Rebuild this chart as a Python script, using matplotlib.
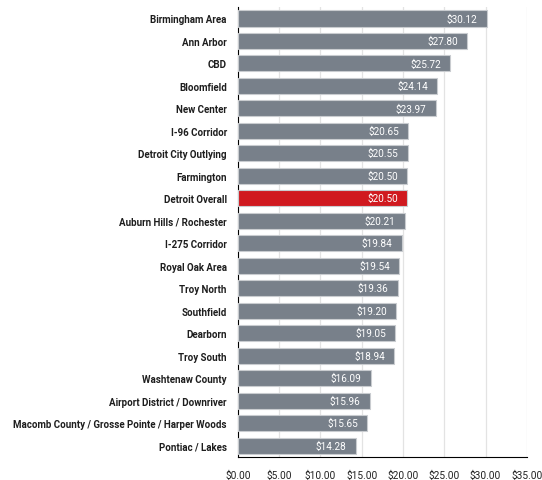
import matplotlib
matplotlib.use("Agg")
import matplotlib.pyplot as plt

# dati
areas = ["Birmingham Area", "Ann Arbor", "CBD", "Bloomfield", "New Center",
         "I-96 Corridor", "Detroit City Outlying", "Farmington", "Detroit Overall",
         "Auburn Hills / Rochester", "I-275 Corridor", "Royal Oak Area", "Troy North",
         "Southfield", "Dearborn", "Troy South", "Washtenaw County",
         "Airport District / Downriver", "Macomb County / Grosse Pointe / Harper Woods",
         "Pontiac / Lakes"]
rents = [30.12, 27.80, 25.72, 24.14, 23.97, 20.65, 20.55, 20.50, 20.50, 20.21,
         19.84, 19.54, 19.36, 19.20, 19.05, 18.94, 16.09, 15.96, 15.65, 14.28]
highlight = "Detroit Overall"
xticks = [0, 5, 10, 15, 20, 25, 30, 35]

plt.rcParams['font.family'] = ['Roboto', 'DejaVu Sans']

fig = plt.figure(figsize=(5.42, 4.81), dpi=100)
ax = fig.add_axes([0.439, 0.048, 0.533, 0.935])

colors = ["#d0191f" if a == highlight else "#78808a" for a in areas]
ypos = list(range(len(areas)))
ax.barh(ypos, rents, height=0.72, color=colors, edgecolor="#c9ccd0", linewidth=0.8, zorder=3)

for y, v in zip(ypos, rents):
    ax.text(v - 1.1, y, f"${v:.2f}", ha="right", va="center", color="white",
            fontsize=7.2, zorder=4)

ax.set_yticks(ypos)
ax.set_yticklabels(areas, fontsize=7.0, fontweight="bold", color="#1e1e1e")
ax.set_ylim(len(areas) - 0.5, -0.5)
ax.set_xlim(0, 35)
ax.set_xticks(xticks)
ax.set_xticklabels([f"${t:.2f}" for t in xticks], fontsize=7.3, color="#222222")
ax.tick_params(axis="both", length=0)
ax.tick_params(axis="x", pad=9)
ax.tick_params(axis="y", pad=8)
ax.grid(axis="x", color="#e3e3e3", linewidth=0.9, zorder=0)
for s in ["top", "right"]:
    ax.spines[s].set_visible(False)
ax.spines["left"].set_color("black")
ax.spines["bottom"].set_color("black")

fig.savefig("out.png", dpi=100)
